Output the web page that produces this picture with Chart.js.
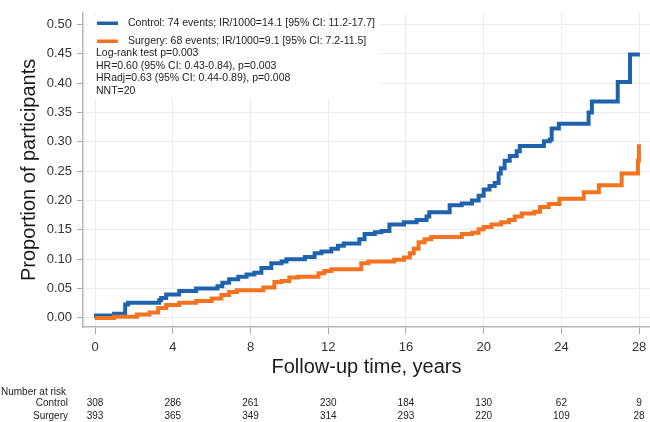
<!DOCTYPE html>
<html>
<head>
<meta charset="utf-8">
<script src="https://cdn.jsdelivr.net/npm/chart.js@4.4.0/dist/chart.umd.min.js"></script>
<style>
  html, body { margin: 0; padding: 0; background: #fff; }
  #wrap { width: 650px; height: 422px; position: relative; }
</style>
</head>
<body>
<div id="wrap"><canvas id="kmChart" width="650" height="422"></canvas></div>
<script>
  // Cumulative incidence curves (step times in years, proportion)
  const controlTime = [0, 0.05, 0.98, 1.55, 1.7, 3.3, 3.4, 3.66, 4.33, 5.2, 6.3, 6.55, 6.9, 7.37, 7.8, 8.2, 8.56, 9.07, 9.6, 9.85, 10.8, 11.3, 11.65, 12.16, 12.5, 12.8, 13.6, 13.87, 14.4, 14.74, 15.15, 15.9, 16.55, 17.06, 17.2, 18.25, 18.87, 19.4, 19.74, 20.0, 20.3, 20.57, 20.77, 20.88, 21.08, 21.34, 21.7, 21.86, 23.1, 23.4, 23.5, 23.87, 25.4, 25.57, 26.9, 27.53, 28.04];
  const controlRisk = [0, 0.004, 0.007, 0.023, 0.026, 0.030, 0.034, 0.040, 0.046, 0.050, 0.054, 0.060, 0.066, 0.070, 0.074, 0.077, 0.085, 0.093, 0.096, 0.100, 0.104, 0.110, 0.113, 0.118, 0.123, 0.127, 0.134, 0.143, 0.146, 0.148, 0.159, 0.163, 0.167, 0.173, 0.180, 0.192, 0.195, 0.200, 0.208, 0.219, 0.225, 0.230, 0.246, 0.255, 0.268, 0.276, 0.284, 0.293, 0.301, 0.304, 0.323, 0.331, 0.350, 0.369, 0.402, 0.449, 0.449];

  const surgeryTime = [0, 0.98, 2.16, 2.8, 3.25, 3.66, 4.33, 5.2, 6.0, 6.5, 6.9, 7.3, 8.66, 9.23, 9.6, 10.0, 10.46, 11.5, 11.8, 12.16, 13.7, 14.07, 15.4, 15.9, 16.2, 16.4, 16.65, 16.96, 17.3, 18.87, 19.4, 19.74, 20.0, 20.4, 20.9, 21.3, 21.6, 21.96, 22.6, 22.9, 23.35, 23.9, 25.15, 25.93, 27.1, 27.94, 27.99];
  const surgeryRisk = [0, 0.002, 0.006, 0.009, 0.017, 0.022, 0.026, 0.029, 0.033, 0.039, 0.044, 0.047, 0.052, 0.061, 0.063, 0.069, 0.070, 0.076, 0.080, 0.083, 0.093, 0.096, 0.099, 0.103, 0.110, 0.118, 0.129, 0.134, 0.138, 0.143, 0.145, 0.151, 0.155, 0.159, 0.163, 0.167, 0.173, 0.178, 0.181, 0.189, 0.194, 0.203, 0.214, 0.226, 0.246, 0.268, 0.296];

  // Axis ticks
  const xTicks = [0, 4, 8, 12, 16, 20, 24, 28];
  const yTicks = [0, 0.05, 0.10, 0.15, 0.20, 0.25, 0.30, 0.35, 0.40, 0.45, 0.50];

  // Number at risk table
  const riskTimes = [0, 4, 8, 12, 16, 20, 24, 28];
  const controlAtRisk = [308, 286, 261, 230, 184, 130, 62, 9];
  const surgeryAtRisk = [393, 365, 349, 314, 293, 220, 109, 28];

  // Legend + stats text
  const seriesLabels = [
    'Control: 74 events; IR/1000=14.1 [95% CI: 11.2-17.7]',
    'Surgery: 68 events; IR/1000=9.1 [95% CI: 7.2-11.5]'
  ];
  const statsLines = [
    'Log-rank test p=0.003',
    'HR=0.60 (95% CI: 0.43-0.84), p=0.003',
    'HRadj=0.63 (95% CI: 0.44-0.89), p=0.008',
    'NNT=20'
  ];

  const BLUE = '#1f63ad';
  const ORANGE = '#f37321';
  const FONT = '"Liberation Sans", Arial, Helvetica, sans-serif';

  const toPoints = (xs, ys) => xs.map((x, i) => ({ x: x, y: ys[i] }));

  const legendBox = {
    id: 'legendBox',
    afterDraw(chart) {
      const ctx = chart.ctx;
      ctx.save();
      ctx.fillStyle = '#fff';
      ctx.fillRect(88, 15, 292, 84);
      const colors = [BLUE, ORANGE];
      const rowsY = [23, 41];
      ctx.font = '10.5px ' + FONT;
      ctx.textBaseline = 'middle';
      ctx.textAlign = 'left';
      seriesLabels.forEach((lab, i) => {
        ctx.fillStyle = colors[i];
        ctx.fillRect(97, rowsY[i] - 1.5, 21, 3.5);
        ctx.fillStyle = '#222';
        ctx.fillText(lab, 128, rowsY[i]);
      });
      statsLines.forEach((line, i) => {
        ctx.fillText(line, 96, 53.5 + i * 12.5);
      });
      ctx.restore();
    }
  };

  const riskTable = {
    id: 'riskTable',
    afterDraw(chart) {
      const ctx = chart.ctx;
      const xs = chart.scales.x;
      ctx.save();
      ctx.font = '10px ' + FONT;
      ctx.fillStyle = '#222';
      ctx.textBaseline = 'middle';
      ctx.textAlign = 'left';
      ctx.fillText('Number at risk', 1, 392.5);
      ctx.textAlign = 'right';
      ctx.fillText('Control', 68, 403.5);
      ctx.fillText('Surgery', 68, 416.5);
      ctx.textAlign = 'center';
      riskTimes.forEach((t, i) => {
        const px = xs.getPixelForValue(t);
        ctx.fillText(String(controlAtRisk[i]), px, 403.5);
        ctx.fillText(String(surgeryAtRisk[i]), px, 416.5);
      });
      ctx.restore();
    }
  };

  new Chart(document.getElementById('kmChart'), {
    type: 'line',
    data: {
      datasets: [{
        label: 'Surgery',
        data: toPoints(surgeryTime, surgeryRisk),
        borderColor: ORANGE,
        borderWidth: 4,
        stepped: true,
        pointRadius: 0,
        fill: false,
        order: 0
      }, {
        label: 'Control',
        data: toPoints(controlTime, controlRisk),
        borderColor: BLUE,
        borderWidth: 4,
        stepped: true,
        pointRadius: 0,
        fill: false,
        order: 1
      }]
    },
    options: {
      responsive: false,
      animation: false,
      layout: { padding: { top: 0, right: 0, bottom: 43, left: 0 } },
      plugins: {
        legend: { display: false },
        tooltip: { enabled: false }
      },
      scales: {
        x: {
          type: 'linear',
          min: -0.62,
          max: 28.56,
          afterBuildTicks: s => { s.ticks = xTicks.map(v => ({ value: v })); },
          afterFit: s => { s.height = 52; s.paddingRight = 0; },
          grid: { color: '#ebebeb', tickColor: '#a8a8a8', tickLength: 7, lineWidth: 1 },
          border: { color: '#b4b4b4', width: 1.5 },
          ticks: { color: '#333', font: { size: 13, family: FONT }, padding: 6, maxRotation: 0 },
          title: {
            display: true,
            text: 'Follow-up time, years',
            color: '#1a1a1a',
            font: { size: 20, family: FONT },
            padding: { top: 0, bottom: 0 }
          }
        },
        y: {
          type: 'linear',
          min: -0.0155,
          max: 0.52,
          afterBuildTicks: s => { s.ticks = yTicks.map(v => ({ value: v })); },
          afterFit: s => { s.width = 83; },
          grid: { color: '#ebebeb', tickColor: '#a8a8a8', tickLength: 6, lineWidth: 1 },
          border: { color: '#b4b4b4', width: 1.5 },
          ticks: { color: '#333', font: { size: 13, family: FONT }, padding: 5, callback: v => Number(v).toFixed(2) },
          title: {
            display: true,
            text: 'Proportion of participants',
            color: '#1a1a1a',
            font: { size: 20, family: FONT },
            padding: { top: 17, bottom: 0 }
          }
        }
      }
    },
    plugins: [legendBox, riskTable]
  });
</script>
</body>
</html>
